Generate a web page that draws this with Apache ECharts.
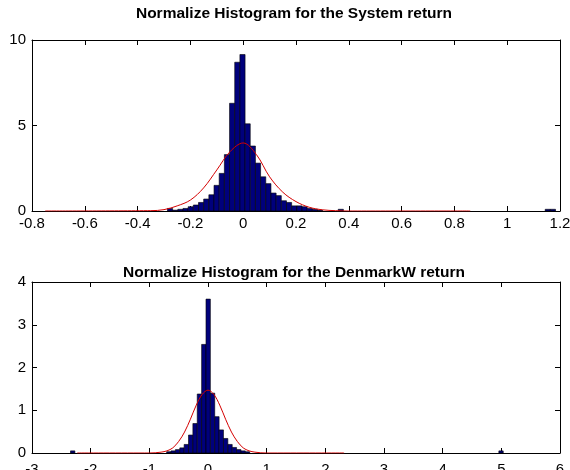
<!DOCTYPE html>
<html>
<head>
<meta charset="utf-8">
<script src="https://cdn.jsdelivr.net/npm/echarts@6/dist/echarts.min.js"></script>
<style>
  html, body { margin: 0; padding: 0; background: #fff; }
  #chart { width: 570px; height: 470px; }
</style>
</head>
<body>
<div id="chart"></div>
<script>
// System return: normalized histogram (bin centres, densities) and fitted normal curve
const systemBinWidth = 0.0196;
const systemCenters = [-0.2771, -0.2575, -0.2379, -0.2183, -0.1987, -0.1791, -0.1595, -0.1399, -0.1203,
  -0.1007, -0.0811, -0.0615, -0.0419, -0.0223, -0.0027, 0.0169, 0.0365, 0.0561, 0.0757, 0.0953,
  0.1149, 0.1345, 0.1541, 0.1737, 0.1933, 0.2129, 0.2325, 0.2521, 0.2717, 0.2913, 0.3697, 1.1537, 1.1733];
const systemDensity = [0.15, 0.05, 0.1, 0.15, 0.25, 0.35, 0.5, 0.7, 0.95,
  1.5, 2.2, 3.3, 6.3, 8.7, 9.15, 5.1, 3.8, 2.8, 2.0, 1.6,
  1.05, 0.9, 0.6, 0.5, 0.3, 0.3, 0.25, 0.15, 0.1, 0.05, 0.1, 0.1, 0.1];
const systemFitX = [-0.75, -0.35, -0.3, -0.25, -0.2, -0.15, -0.1, -0.05, 0, 0.05, 0.1, 0.15, 0.2, 0.25, 0.3, 0.35, 0.4, 0.86];
const systemFitY = [0, 0.02, 0.08, 0.3, 0.64, 1.35, 2.4, 3.47, 3.98, 3.3, 2.0, 1.1, 0.55, 0.22, 0.07, 0.02, 0, 0];

// DenmarkW return: normalized histogram and fitted normal curve
const denmarkBinWidth = 0.0745;
const denmarkCenters = [-2.3065, -0.6675, -0.593, -0.5185, -0.444, -0.3695, -0.295, -0.2205, -0.146, -0.0715,
  0.003, 0.0775, 0.152, 0.2265, 0.301, 0.3755, 0.45, 0.5245, 0.599, 0.6735, 4.995];
const denmarkDensity = [0.05, 0.03, 0.05, 0.08, 0.12, 0.2, 0.42, 0.69, 1.38, 2.54,
  3.6, 1.4, 0.85, 0.54, 0.34, 0.2, 0.13, 0.08, 0.05, 0.03, 0.05];
const denmarkFitX = [-2.23, -1.0, -0.9, -0.8, -0.7, -0.6, -0.5, -0.4, -0.3, -0.2, -0.1, 0, 0.1, 0.2, 0.3, 0.4, 0.5, 0.6, 0.7, 0.8, 0.9, 1.0, 2.32];
const denmarkFitY = [0, 0, 0.005, 0.02, 0.05, 0.12, 0.27, 0.49, 0.79, 1.12, 1.37, 1.47, 1.37, 1.12, 0.79, 0.49, 0.27, 0.12, 0.05, 0.02, 0.005, 0, 0];

const titles = ['Normalize Histogram for the System return', 'Normalize Histogram for the DenmarkW return'];

const FONT = 'Liberation Sans, Arial, sans-serif';
const BAR_FILL = '#00007c';
const LINE_RED = '#d40000';

function histItem(width) {
  return function (params, api) {
    const c = api.value(0);
    const h = api.value(1);
    const p0 = api.coord([c - width / 2, h]);
    const p1 = api.coord([c + width / 2, 0]);
    return {
      type: 'rect',
      shape: { x: p0[0], y: p0[1], width: p1[0] - p0[0], height: p1[1] - p0[1] },
      style: { fill: BAR_FILL, stroke: '#000', lineWidth: 0.6 }
    };
  };
}

function pairs(xs, ys) { return xs.map((x, i) => [x, ys[i]]); }

const axisLine = { show: true, onZero: false, lineStyle: { color: '#000', width: 1 } };
const tick = { show: true, inside: true, length: 5, lineStyle: { color: '#000', width: 1 } };
const label = { color: '#000', fontSize: 15, fontFamily: FONT };

function xPair(gridIndex, min, max, interval, labelMargin) {
  return [
    { type: 'value', gridIndex, min, max, interval, position: 'bottom',
      axisLine, axisTick: tick, splitLine: { show: false },
      axisLabel: Object.assign({ margin: labelMargin }, label) },
    { type: 'value', gridIndex, min, max, interval, position: 'top',
      axisLine, axisTick: tick, splitLine: { show: false }, axisLabel: { show: false } }
  ];
}
function yPair(gridIndex, min, max, interval) {
  return [
    { type: 'value', gridIndex, min, max, interval, position: 'left',
      axisLine, axisTick: tick, splitLine: { show: false },
      axisLabel: Object.assign({ margin: 6 }, label) },
    { type: 'value', gridIndex, min, max, interval, position: 'right',
      axisLine, axisTick: tick, splitLine: { show: false }, axisLabel: { show: false } }
  ];
}

const titleStyle = { fontSize: 15.5, fontWeight: 'bold', color: '#000', fontFamily: FONT };

const chart = echarts.init(document.getElementById('chart'), null, { renderer: 'canvas' });
chart.setOption({
  animation: false,
  backgroundColor: '#fff',
  title: [
    { text: titles[0], left: 289, top: 1, textAlign: 'center', textStyle: titleStyle },
    { text: titles[1], left: 289, top: 260, textAlign: 'center', textStyle: titleStyle }
  ],
  grid: [
    { left: 32, top: 40, width: 528, height: 171, containLabel: false, outerBoundsMode: 'none' },
    { left: 32, top: 282, width: 528, height: 171, containLabel: false, outerBoundsMode: 'none' }
  ],
  xAxis: [...xPair(0, -0.8, 1.2, 0.2, 5), ...xPair(1, -3, 6, 1, 9)],
  yAxis: [...yPair(0, 0, 10, 5), ...yPair(1, 0, 4, 1)],
  series: [
    { type: 'custom', xAxisIndex: 0, yAxisIndex: 0, renderItem: histItem(systemBinWidth),
      encode: { x: 0, y: 1 }, data: pairs(systemCenters, systemDensity), z: 2 },
    { type: 'line', xAxisIndex: 0, yAxisIndex: 0, data: pairs(systemFitX, systemFitY),
      showSymbol: false, smooth: 0.35, lineStyle: { color: LINE_RED, width: 1 }, z: 3 },
    { type: 'custom', xAxisIndex: 2, yAxisIndex: 2, renderItem: histItem(denmarkBinWidth),
      encode: { x: 0, y: 1 }, data: pairs(denmarkCenters, denmarkDensity), z: 2 },
    { type: 'line', xAxisIndex: 2, yAxisIndex: 2, data: pairs(denmarkFitX, denmarkFitY),
      showSymbol: false, smooth: 0.35, lineStyle: { color: LINE_RED, width: 1 }, z: 3 }
  ]
});
</script>
</body>
</html>
